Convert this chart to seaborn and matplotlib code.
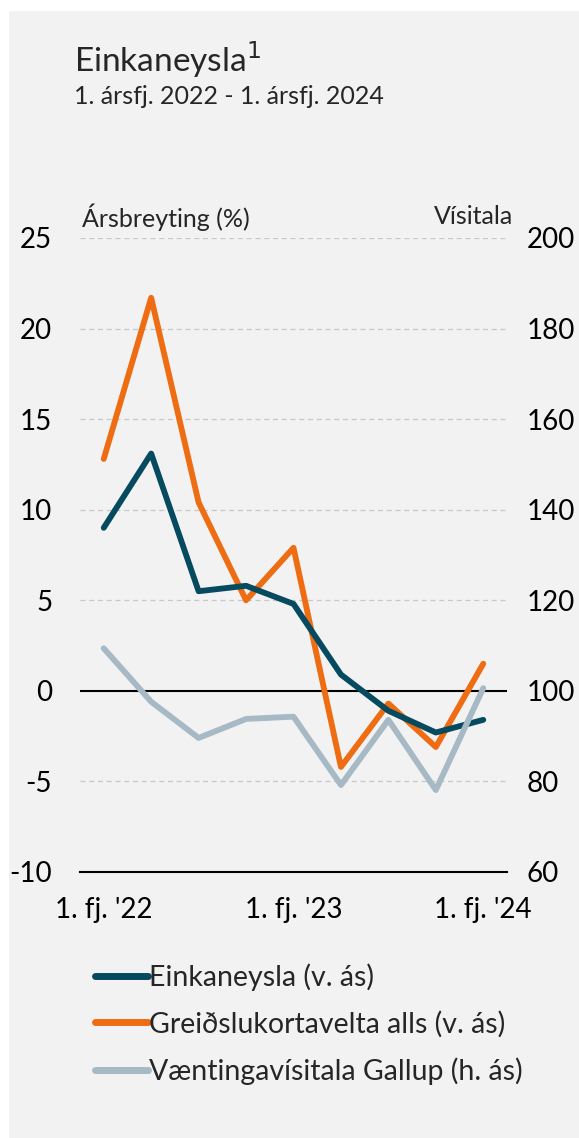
import numpy as np
import pandas as pd
import seaborn as sns
import matplotlib.pyplot as plt
from matplotlib.patches import Rectangle
from matplotlib.lines import Line2D

# data, 1. fj. 2022 - 1. fj. 2024
quarters = ["1F22", "2F22", "3F22", "4F22", "1F23", "2F23", "3F23", "4F23", "1F24"]
einkaneysla = [9.0, 13.1, 5.5, 5.8, 4.8, 0.9, -1.1, -2.3, -1.6]
kortavelta = [12.8, 21.7, 10.4, 5.0, 7.9, -4.2, -0.7, -3.1, 1.5]
gallup = [109.4, 97.6, 89.6, 93.8, 94.3, 79.2, 93.6, 78.1, 100.6]
tick_labels = ["1. fj. '22", "1. fj. '23", "1. fj. '24"]

df = pd.DataFrame({"x": np.arange(len(quarters)), "quarter": quarters,
                   "einkaneysla": einkaneysla, "kortavelta": kortavelta,
                   "gallup": gallup})

sns.set_theme(style="white")
plt.rcParams['font.family'] = ['Lato', 'DejaVu Sans']
plt.rcParams['axes.unicode_minus'] = False

dark = "#064a60"
orange = "#ee6c12"
grey = "#a6b9c5"
bg = "#f2f2f2"

fig = plt.figure(figsize=(5.79, 11.38), dpi=100, facecolor="white")
fig.patches.append(Rectangle((9/579, 0), 1, 1 - 11/1138, transform=fig.transFigure,
                             facecolor=bg, edgecolor="none", zorder=-10))

ax = fig.add_axes([80/579, 1 - 872/1138, (507 - 80)/579, (872 - 238)/1138])
ax.set_facecolor("none")

# gridlines
for v in [-5, 5, 10, 15, 20, 25]:
    ax.axhline(v, color="#c8c8c8", lw=0.9, ls=(0, (4, 3)), zorder=0)
ax.axhline(0, color="black", lw=1.5, zorder=1)

sns.lineplot(data=df, x="x", y="kortavelta", ax=ax, color=orange, lw=4.2, zorder=3)
sns.lineplot(data=df, x="x", y="einkaneysla", ax=ax, color=dark, lw=4.2, zorder=4)

ax2 = ax.twinx()
ax2.set_facecolor("none")
sns.lineplot(data=df, x="x", y="gallup", ax=ax2, color=grey, lw=4.2, zorder=3)

ax.set_xlim(-0.5, 8.5)
ax.set_ylim(-10, 25)
ax2.set_ylim(60, 200)
ax.set_yticks(range(-10, 30, 5))
ax2.set_yticks(range(60, 220, 20))

ax.set_xticks([-0.5, 3.5, 7.5])
ax.set_xticklabels([])
ax.set_xticks([0, 4, 8], minor=True)
ax.set_xticklabels(tick_labels, minor=True)
ax.tick_params(axis="x", which="major", direction="out", length=7, width=1.3, color="black")
ax.tick_params(axis="x", which="minor", length=0, pad=18, labelsize=20, labelcolor="black")
ax.tick_params(axis="y", length=0, pad=20, labelsize=20, labelcolor="black")
ax2.tick_params(axis="y", length=0, pad=14, labelsize=20, labelcolor="black")

for a in (ax, ax2):
    for s in ["left", "right", "top", "bottom"]:
        a.spines[s].set_visible(False)
    a.set_xlabel("")
    a.set_ylabel("")
    a.grid(False)
ax.spines["bottom"].set_visible(True)
ax.spines["bottom"].set_color("black")
ax.spines["bottom"].set_linewidth(1.5)

# texts
fig.text(74/579, 1 - 60/1138, "Einkaneysla$^{1}$", fontsize=24, va="center", ha="left")
fig.text(74/579, 1 - 97/1138, "1. ársfj. 2022 - 1. ársfj. 2024", fontsize=18, va="center", ha="left")
fig.text(82/579, 1 - 217/1138, "Ársbreyting (%)", fontsize=18, va="center", ha="left")
fig.text(513/579, 1 - 217/1138, "Vísitala", fontsize=18, va="center", ha="right")

handles = [Line2D([], [], color=dark, lw=5, solid_capstyle="round"),
           Line2D([], [], color=orange, lw=5, solid_capstyle="round"),
           Line2D([], [], color=grey, lw=5, solid_capstyle="round")]
labels = ["Einkaneysla (v. ás)", "Greiðslukortavelta alls (v. ás)",
          "Væntingavísitala Gallup (h. ás)"]
fig.legend(handles, labels, loc="upper left", bbox_to_anchor=(95/579, 1 - 963/1138),
           frameon=False, fontsize=20.5, handlelength=1.85, handletextpad=0.05,
           labelspacing=0.7, borderaxespad=0, borderpad=0)

fig.savefig("out.png", dpi=100, facecolor="white")
